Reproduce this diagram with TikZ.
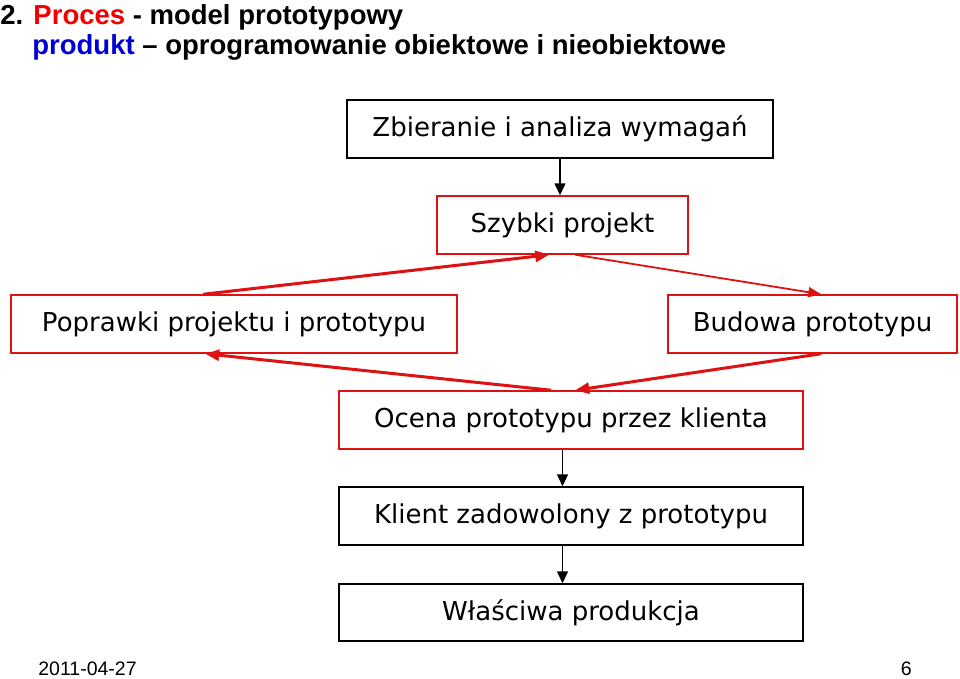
\documentclass[tikz,border=0pt]{standalone}
\usepackage{fontspec}
\setmainfont{Liberation Sans}
\newfontfamily\boxfont{DejaVu Sans}
\usetikzlibrary{arrows.meta}

\definecolor{boxred}{RGB}{222,18,18}
\definecolor{titlered}{RGB}{240,0,0}
\definecolor{titleblue}{RGB}{0,0,210}

\tikzset{every picture/.style={line width=0.75pt}}
\tikzset{
  stepbox/.style={draw=black,line width=1.5pt,minimum height=58pt,inner sep=0pt,font=\boxfont\fontsize{26}{30}\selectfont},
  redbox/.style={stepbox,draw=boxred},
  downarrow/.style={-{Triangle[length=12pt,width=11pt]},line width=1.5pt},
  loop/.style={-{Triangle[length=14pt,width=11pt]},draw=boxred,line width=3pt},
  loopthin/.style={-{Triangle[length=13pt,width=10pt]},draw=boxred,line width=1.8pt}
}

\begin{document}
\begin{tikzpicture}[x=1pt,y=1pt,yscale=-1]
\useasboundingbox (0,0) rectangle (960,679);

% Title
\node (title1) [anchor=base west,inner sep=0pt,font=\bfseries\fontsize{27.5}{30}\selectfont] at (0,25) {2. \textcolor{titlered}{Proces} - model prototypowy};
\node (title2) [anchor=base west,inner sep=0pt,font=\bfseries\fontsize{27.5}{30}\selectfont] at (32,55) {\textcolor{titleblue}{produkt} -- oprogramowanie obiektowe i nieobiektowe};

%Shape: Rectangle
\node (zbieranie) [stepbox,minimum width=426pt] at (560,129) {Zbieranie i analiza wymagań};
\node (szybki) [redbox,minimum width=251pt] at (562.5,225) {Szybki projekt};
\node (poprawki) [redbox,minimum width=446pt] at (234,324) {Poprawki projektu i prototypu};
\node (budowa) [redbox,minimum width=289pt] at (812.5,324) {Budowa prototypu};
\node (ocena) [redbox,minimum width=464pt] at (571,420) {Ocena prototypu przez klienta};
\node (klient) [stepbox,minimum width=464pt] at (571,516) {Klient zadowolony z prototypu};
\node (produkcja) [stepbox,minimum width=464pt,minimum height=57pt] at (571,612.5) {Właściwa produkcja};

%Straight Lines
\draw [downarrow] (zbieranie.south) -- (zbieranie.south |- szybki.north);
\draw [downarrow] (ocena.south -| szybki.south) -- (klient.north -| szybki.south);
\draw [downarrow] (klient.south -| szybki.south) -- (produkcja.north -| szybki.south);

%Straight Lines (loop)
\draw [loop] ([xshift=193pt]poprawki.north west) -- ([xshift=113pt]szybki.south west);
\draw [loopthin] ([xshift=139pt]szybki.south west) -- ([xshift=154pt]budowa.north west);
\draw [loop] ([xshift=154pt]budowa.south west) -- ([xshift=237pt]ocena.north west);
\draw [loop] ([xshift=213pt]ocena.north west) -- ([xshift=195pt]poprawki.south west);

% Text Node
\node (date) [anchor=base west,inner sep=0pt,font=\fontsize{19.5}{22}\selectfont] at (38,675) {2011-04-27};
% Text Node
\node (page) [anchor=base east,inner sep=0pt,font=\fontsize{19.5}{22}\selectfont] at (912,675) {6};

\end{tikzpicture}
\end{document}
